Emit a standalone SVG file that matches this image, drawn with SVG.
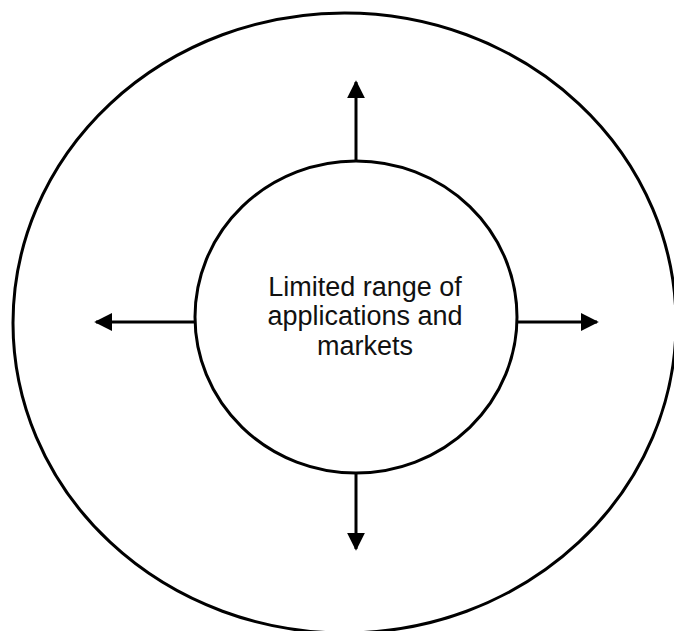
<svg xmlns="http://www.w3.org/2000/svg" width="674" height="631" viewBox="0 0 674 631">
<style>
.ring{fill:none;stroke:#000;stroke-width:3}
.conn{stroke:#000;stroke-width:3;fill:none}
.lbl{font-family:"Liberation Sans",Arial,sans-serif;font-size:27px;fill:#111;text-anchor:middle}
</style>
<defs>
<marker id="ah" viewBox="0 0 10 10" refX="9" refY="5" markerWidth="6" markerHeight="6" markerUnits="strokeWidth" orient="auto">
<path d="M0,0 L10,5 L0,10 Z" fill="#000"/>
</marker>
</defs>
<rect width="674" height="631" fill="#fff"/>
<g id="outer">
<ellipse class="ring" cx="344.5" cy="323" rx="331.5" ry="310"/>
</g>
<g id="inner">
<ellipse class="ring" cx="356" cy="317" rx="161" ry="156"/>
<text class="lbl" x="365" y="296">Limited range of</text>
<text class="lbl" x="365" y="325">applications and</text>
<text class="lbl" x="365" y="355">markets</text>
</g>
<g id="connectors">
<line class="conn" x1="356" y1="161" x2="356" y2="82" marker-end="url(#ah)"/>
<line class="conn" x1="195" y1="322" x2="96" y2="322" marker-end="url(#ah)"/>
<line class="conn" x1="517" y1="322" x2="597" y2="322" marker-end="url(#ah)"/>
<line class="conn" x1="356" y1="473" x2="356" y2="549" marker-end="url(#ah)"/>
</g>
</svg>
